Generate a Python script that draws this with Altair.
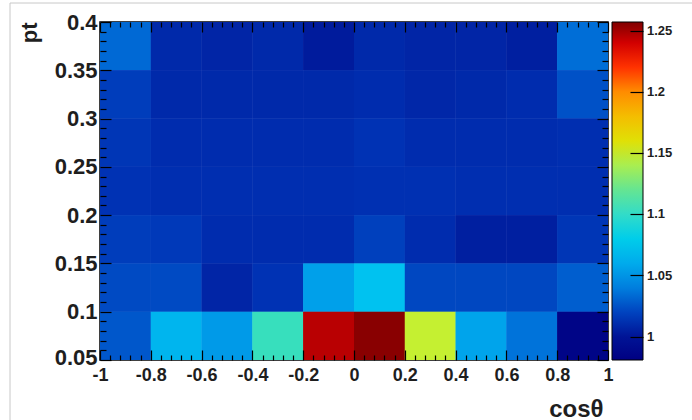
import altair as alt
import pandas as pd
import numpy as np

# bin edges
x_edges = [-1.0, -0.8, -0.6, -0.4, -0.2, 0.0, 0.2, 0.4, 0.6, 0.8, 1.0]
y_edges = [0.05, 0.1, 0.15, 0.2, 0.25, 0.3, 0.35, 0.4]

# cell values, rows from pt 0.35-0.4 (top) down to pt 0.05-0.1 (bottom)
row_035 = [1.032, 1.010, 1.008, 1.010, 1.003, 1.010, 1.008, 1.008, 1.005, 1.034]
row_030 = [1.018, 1.010, 1.010, 1.010, 1.010, 1.012, 1.009, 1.010, 1.012, 1.024]
row_025 = [1.016, 1.012, 1.012, 1.012, 1.012, 1.015, 1.012, 1.012, 1.012, 1.013]
row_020 = [1.015, 1.013, 1.013, 1.013, 1.013, 1.014, 1.014, 1.013, 1.013, 1.013]
row_015 = [1.018, 1.017, 1.012, 1.012, 1.012, 1.019, 1.012, 1.005, 1.005, 1.016]
row_010 = [1.022, 1.022, 1.008, 1.015, 1.055, 1.072, 1.021, 1.021, 1.021, 1.028]
row_005 = [1.026, 1.065, 1.052, 1.105, 1.245, 1.255, 1.147, 1.057, 1.036, 0.986]
rows_top_down = [row_035, row_030, row_025, row_020, row_015, row_010, row_005]

x_major = [-1.0, -0.8, -0.6, -0.4, -0.2, 0.0, 0.2, 0.4, 0.6, 0.8, 1.0]
y_major = [0.05, 0.1, 0.15, 0.2, 0.25, 0.3, 0.35, 0.4]
cbar_ticks = [1.0, 1.05, 1.1, 1.15, 1.2, 1.25]
z_min, z_max = 0.981, 1.257

records = []
n_rows = len(rows_top_down)
for r, row in enumerate(rows_top_down):
    yi = n_rows - 1 - r
    for ci, v in enumerate(row):
        records.append({
            "x_lo": x_edges[ci], "x_hi": x_edges[ci + 1],
            "y_lo": y_edges[yi], "y_hi": y_edges[yi + 1],
            "ratio": v,
        })
df = pd.DataFrame(records)

# palette (ROOT-like rainbow)
pal_domain = [0.981, 1.0, 1.015, 1.03, 1.05, 1.075, 1.1, 1.125, 1.15, 1.175, 1.2, 1.22, 1.24, 1.257]
pal_range = ["#000082", "#001496", "#0032b4", "#0064d2", "#0096e6", "#00c8f0", "#32dcc8",
             "#78e682", "#d2f01e", "#f0c800", "#ff8c00", "#ff3200", "#d20000", "#800000"]

W, H = 508, 338
FONT = "Liberation Sans"
TXT = "#1e1e1e"

x_minor = [float(v) for v in np.round(np.arange(-1.0, 1.0001, 0.04), 2)]
y_minor = [float(v) for v in np.round(np.arange(0.05, 0.4001, 0.01), 2)]

x_scale = alt.Scale(domain=[-1, 1], nice=False, zero=False)
y_scale = alt.Scale(domain=[0.05, 0.4], nice=False, zero=False)

x_tick_size = {"condition": {"test": "abs(datum.value*5 - round(datum.value*5)) < 0.01", "value": 10}, "value": 5}
y_tick_size = {"condition": {"test": "abs(datum.value*20 - round(datum.value*20)) < 0.01", "value": 11}, "value": 6}
y_label_offset = {"condition": {"test": "datum.value < 0.06", "value": -3}, "value": 0}

color_enc = alt.Color(
    "ratio:Q",
    scale=alt.Scale(domain=pal_domain, range=pal_range, clamp=True),
    legend=alt.Legend(
        orient="none", legendX=512, legendY=0, direction="vertical",
        gradientLength=H, gradientThickness=31, title=None,
        values=cbar_ticks, labelExpr="'' + datum.value",
        labelFont=FONT, labelFontSize=13, labelFontWeight="bold",
        labelColor=TXT, labelOffset=4, labelOverlap=False,
        gradientStrokeColor="black", gradientStrokeWidth=1, padding=0),
)

# underlay (same cells) to hide anti-aliasing seams between neighbouring cells
under = alt.Chart(df).mark_rect().encode(
    x=alt.X("x_lo:Q", scale=x_scale, axis=None),
    x2="x_hi:Q",
    y=alt.Y("y_lo:Q", scale=y_scale, axis=None),
    y2="y_hi:Q",
    color=color_enc,
)

heat = alt.Chart(df).mark_rect().encode(
    x=alt.X("x_lo:Q", scale=x_scale, axis=alt.Axis(
        orient="bottom", values=x_major, labelExpr="'' + datum.value",
        labelFont=FONT, labelFontSize=18, labelFontWeight="bold", labelColor=TXT,
        labelPadding=6, labelFlush=False, labelOverlap=False,
        ticks=False, tickSize=0, domain=False, grid=False,
        title="cosθ", titleFont=FONT, titleFontSize=24, titleFontWeight="bold",
        titleColor=TXT, titleAlign="right", titleBaseline="alphabetic",
        titleX=503, titleY=56)),
    x2="x_hi:Q",
    y=alt.Y("y_lo:Q", scale=y_scale, axis=alt.Axis(
        orient="left", values=y_major, labelExpr="'' + datum.value",
        labelFont=FONT, labelFontSize=22, labelFontWeight="bold", labelColor=TXT,
        labelPadding=3, labelFlush=False, labelOverlap=False, labelOffset=y_label_offset,
        ticks=False, tickSize=0, domain=False, grid=False,
        title="pt", titleFont=FONT, titleFontSize=22, titleFontWeight="bold",
        titleColor=TXT, titleAngle=270, titleAlign="right", titleBaseline="alphabetic",
        titleX=-64, titleY=0)),
    y2="y_hi:Q",
    color=color_enc,
)

tick_axis_common = dict(labels=False, domain=False, grid=False, title=None,
                        ticks=True, tickColor="black", tickWidth=1.2, zindex=2)

ticks_a = alt.Chart(df).mark_rect(opacity=0).encode(
    x=alt.X("x_lo:Q", scale=x_scale, axis=alt.Axis(orient="top", offset=-H, values=x_minor,
                                                   tickSize=x_tick_size, **tick_axis_common)),
    y=alt.Y("y_lo:Q", scale=y_scale, axis=alt.Axis(orient="right", offset=-W, values=y_minor,
                                                   tickSize=y_tick_size, **tick_axis_common)),
)
ticks_b = alt.Chart(df).mark_rect(opacity=0).encode(
    x=alt.X("x_lo:Q", scale=x_scale, axis=alt.Axis(orient="bottom", offset=-H, values=x_minor,
                                                   tickSize=x_tick_size, **tick_axis_common)),
    y=alt.Y("y_lo:Q", scale=y_scale, axis=alt.Axis(orient="left", offset=-W, values=y_minor,
                                                   tickSize=y_tick_size, **tick_axis_common)),
)

cbar = alt.Chart(pd.DataFrame({"tick": cbar_ticks})).mark_point(opacity=0).encode(
    y=alt.Y("tick:Q", scale=alt.Scale(domain=[z_min, z_max], nice=False, zero=False),
            axis=alt.Axis(orient="left", offset=-(W + 35), values=cbar_ticks,
                          tickSize=13, **tick_axis_common)),
)

dummy = pd.DataFrame({"a": [0]})
frame_left = alt.Chart(dummy).mark_rule(color="#c8c8c8", strokeWidth=1).encode(
    x=alt.value(-90), y=alt.value(-19), y2=alt.value(400))
frame_top = alt.Chart(dummy).mark_rule(color="#c8c8c8", strokeWidth=1).encode(
    x=alt.value(-90), x2=alt.value(592), y=alt.value(-19))

chart = alt.layer(under, heat, ticks_a, ticks_b, cbar, frame_left, frame_top).resolve_scale(
    y="independent"
).resolve_axis(
    x="independent", y="independent"
).properties(
    width=W, height=H,
    autosize=alt.AutoSizeParams(type="none"),
    padding={"left": 100, "top": 22, "right": 84, "bottom": 60},
    background="white",
).configure_view(stroke="black", strokeWidth=1.5)

chart.save("out.html", embed_options={"renderer": "svg", "actions": False})
